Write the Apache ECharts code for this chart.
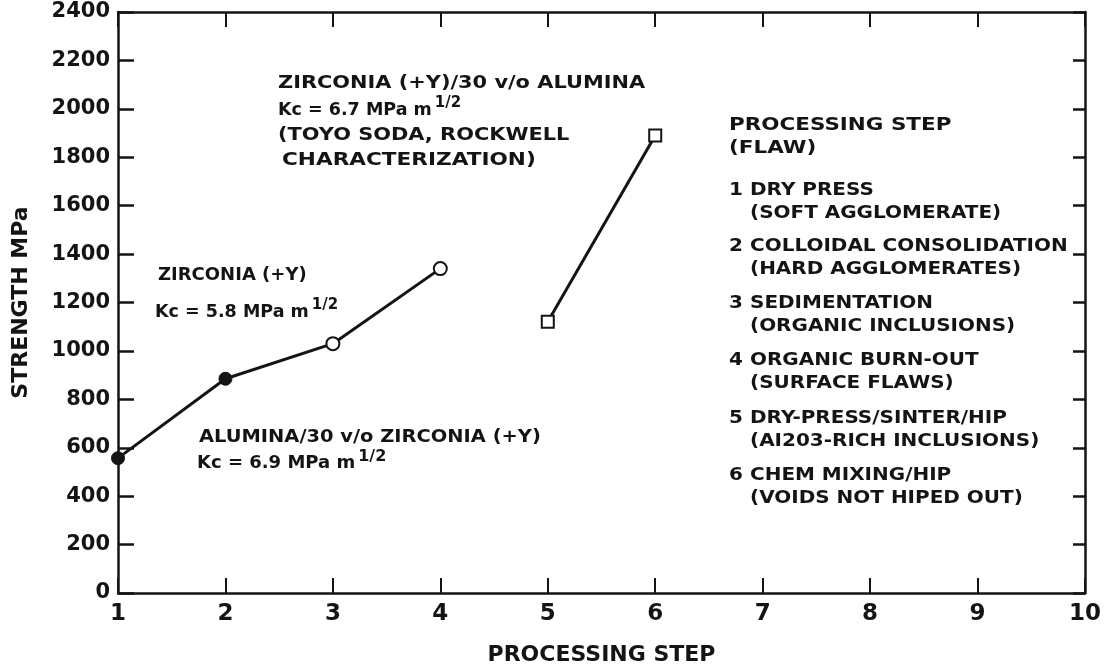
<!DOCTYPE html>
<html>
<head>
<meta charset="utf-8">
<script src="https://cdn.jsdelivr.net/npm/echarts@6/dist/echarts.min.js"></script>
<style>
  html, body { margin: 0; padding: 0; background: #ffffff; }
  #chart { width: 1104px; height: 671px; }
</style>
</head>
<body>
<div id="chart"></div>
<script>
// Strength (MPa) measured after each processing step
const aluminaSteps = [1, 2];
const aluminaStrength = [557, 885];
const zirconiaSteps = [2, 3, 4];
const zirconiaStrength = [885, 1030, 1340];
const compositeSteps = [5, 6];
const compositeStrength = [1120, 1890];

// Processing step key (flaw introduced)
const stepNumbers = ['1', '2', '3', '4', '5', '6'];
const stepNames = [
  'DRY PRESS',
  'COLLOIDAL CONSOLIDATION',
  'SEDIMENTATION',
  'ORGANIC BURN-OUT',
  'DRY-PRESS/SINTER/HIP',
  'CHEM MIXING/HIP'
];
const stepFlaws = [
  '(SOFT AGGLOMERATE)',
  '(HARD AGGLOMERATES)',
  '(ORGANIC INCLUSIONS)',
  '(SURFACE FLAWS)',
  '(AI203-RICH INCLUSIONS)',
  '(VOIDS NOT HIPED OUT)'
];

const INK = '#141414';
const FONT = "'DejaVu Sans', 'Liberation Sans', sans-serif";

const chart = echarts.init(document.getElementById('chart'), null, { renderer: 'canvas' });

function pairs(xs, ys) {
  return xs.map((x, i) => [x, ys[i]]);
}

function boldText(size) {
  return { fontFamily: FONT, fontWeight: 'bold', fontSize: size, color: INK };
}

// text with a raised "1/2" exponent
function kcStyle(text, size) {
  return {
    text: '{t|' + text + '}{s|1/2}',
    fill: INK,
    verticalAlign: 'middle',
    rich: {
      t: { fontFamily: FONT, fontWeight: 'bold', fontSize: size, lineHeight: 28, fill: INK },
      s: { fontFamily: FONT, fontWeight: 'bold', fontSize: Math.round(size * 0.88), lineHeight: 12, verticalAlign: 'top', fill: INK, padding: [0, 0, 0, 3] }
    }
  };
}

// lettering is set a little wide: keep the cap height, stretch horizontally
function label(x, y, text, size, stretch) {
  return {
    type: 'text', x: x, y: y, silent: true,
    scaleX: stretch || 1,
    style: { text: text, fill: INK, font: 'bold ' + size + 'px ' + FONT, verticalAlign: 'middle' }
  };
}

const graphics = [];
// upper composite annotation
graphics.push(label(278, 83, 'ZIRCONIA (+Y)/30 v/o ALUMINA', 18, 1.16));
graphics.push({ type: 'text', x: 278, y: 110, silent: true, style: kcStyle('Kc = 6.7 MPa m', 17.5) });
graphics.push(label(278, 135, '(TOYO SODA, ROCKWELL', 18, 1.16));
graphics.push(label(282, 160, 'CHARACTERIZATION)', 18, 1.2));
// zirconia annotation
graphics.push(label(158, 275, 'ZIRCONIA (+Y)', 18));
graphics.push({ type: 'text', x: 155, y: 312, silent: true, style: kcStyle('Kc = 5.8 MPa m', 17.5) });
// alumina annotation
graphics.push(label(199, 437, 'ALUMINA/30 v/o ZIRCONIA (+Y)', 18, 1.08));
graphics.push({ type: 'text', x: 197, y: 463, silent: true, style: kcStyle('Kc = 6.9 MPa m', 18) });

// step key
const keyX = 729, keyTextX = 750, keyLine = 23.5;
graphics.push(label(keyX, 125, 'PROCESSING STEP', 18.5, 1.16));
graphics.push(label(keyX, 148, '(FLAW)', 18.5, 1.16));
const keyRows = [190, 246, 303, 360, 418, 475];
stepNumbers.forEach((n, i) => {
  graphics.push(label(keyX, keyRows[i], n, 18.5, 1.08));
  graphics.push(label(keyTextX, keyRows[i], stepNames[i], 18.5, 1.08));
  graphics.push(label(keyTextX, keyRows[i] + keyLine, stepFlaws[i], 18.5, 1.08));
});

const axisLine = { show: true, onZero: false, lineStyle: { color: INK, width: 2.5 } };

const option = {
  backgroundColor: '#ffffff',
  animation: false,
  grid: { left: 118, right: 7, top: 12, bottom: 69, containLabel: false },
  xAxis: [
    {
      type: 'value', position: 'bottom', min: 1, max: 10, interval: 1,
      axisLine: axisLine,
      axisTick: { show: true, inside: true, length: 15, lineStyle: { color: INK, width: 2 } },
      axisLabel: Object.assign({ margin: 10, formatter: v => String(v) }, boldText(23)),
      splitLine: { show: false },
      name: 'PROCESSING STEP', nameLocation: 'middle', nameGap: 51,
      nameTextStyle: boldText(22)
    },
    {
      type: 'value', position: 'top', min: 1, max: 10, interval: 1,
      axisLine: axisLine,
      axisTick: { show: true, inside: true, length: 15, lineStyle: { color: INK, width: 2 } },
      axisLabel: { show: false },
      splitLine: { show: false }
    }
  ],
  yAxis: [
    {
      type: 'value', position: 'left', min: 0, max: 2400, interval: 200,
      axisLine: axisLine,
      axisTick: { show: true, inside: true, length: 16, lineStyle: { color: INK, width: 2.5 } },
      axisLabel: Object.assign({ margin: 8, formatter: v => String(v) }, boldText(21)),
      splitLine: { show: false },
      name: 'STRENGTH MPa', nameLocation: 'middle', nameGap: 86, nameRotate: 90,
      nameTextStyle: boldText(22)
    },
    {
      type: 'value', position: 'right', min: 0, max: 2400, interval: 200,
      axisLine: axisLine,
      axisTick: { show: true, inside: true, length: 12, lineStyle: { color: INK, width: 2.5 } },
      axisLabel: { show: false },
      splitLine: { show: false }
    }
  ],
  series: [
    {
      name: 'ZIRCONIA (+Y)',
      type: 'line', clip: false, z: 2,
      data: pairs(zirconiaSteps, zirconiaStrength).map((p, i) => i === 0 ? { value: p, symbol: 'none' } : p),
      symbol: 'circle', symbolSize: 13, showAllSymbol: true,
      lineStyle: { color: INK, width: 3 },
      itemStyle: { color: '#ffffff', borderColor: INK, borderWidth: 2 }
    },
    {
      name: 'ALUMINA/30 v/o ZIRCONIA (+Y)',
      type: 'line', clip: false, z: 3,
      data: pairs(aluminaSteps, aluminaStrength),
      symbol: 'circle', symbolSize: 13, showAllSymbol: true,
      lineStyle: { color: INK, width: 3 },
      itemStyle: { color: INK, borderColor: INK, borderWidth: 1 }
    },
    {
      name: 'ZIRCONIA (+Y)/30 v/o ALUMINA',
      type: 'line', clip: false, z: 2,
      data: pairs(compositeSteps, compositeStrength),
      symbol: 'rect', symbolSize: 12, showAllSymbol: true,
      lineStyle: { color: INK, width: 3 },
      itemStyle: { color: '#ffffff', borderColor: INK, borderWidth: 2 }
    }
  ],
  graphic: graphics
};

chart.setOption(option);
</script>
</body>
</html>
